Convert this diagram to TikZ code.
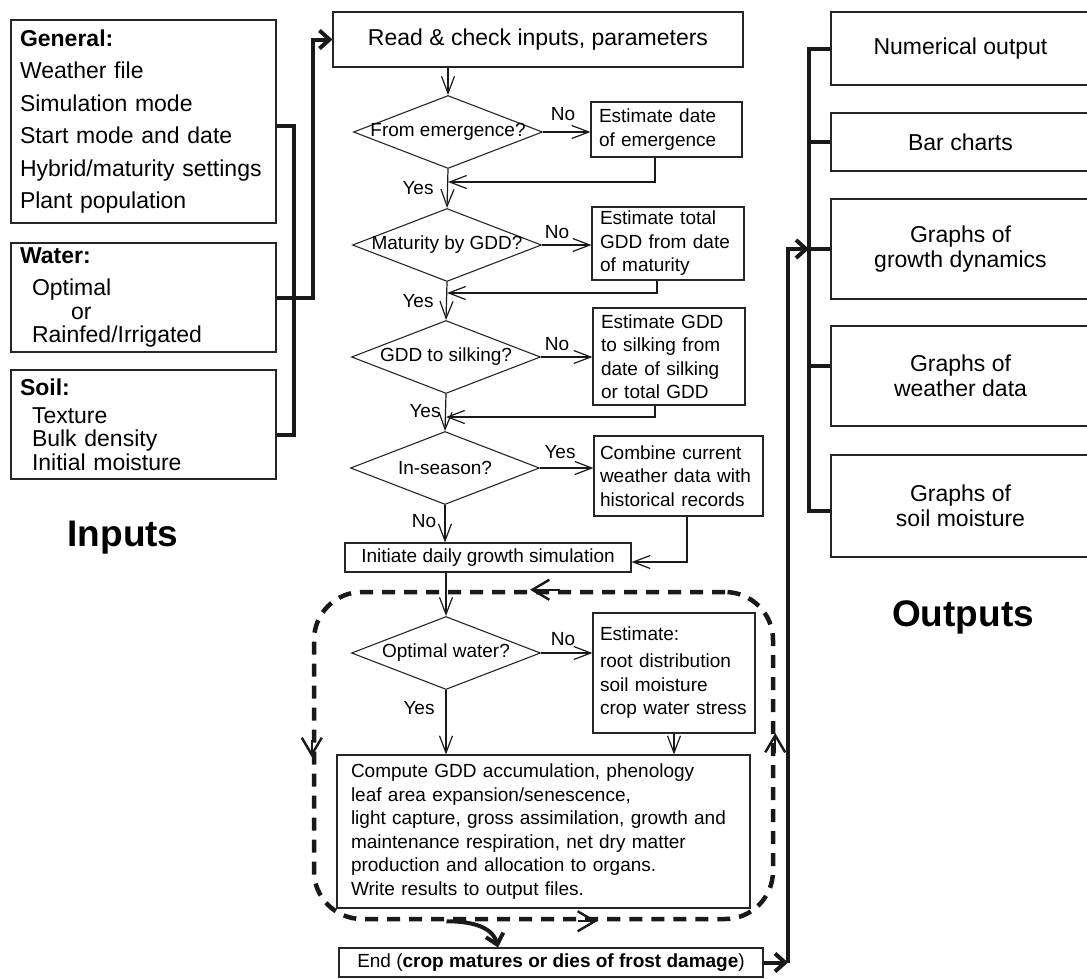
\documentclass[tikz,border=0pt]{standalone}
\usepackage{fontspec}
\setmainfont{Liberation Sans}
\usetikzlibrary{arrows.meta,shapes.geometric,calc}
\begin{document}
\begin{tikzpicture}[x=1pt,y=-1pt,
  line join=miter,
  box/.style={draw=black!85, line width=1.1pt, inner sep=0pt, font=\fontsize{19}{23.5}\selectfont},
  lbox/.style={box, align=left, inner xsep=8pt},
  inbox/.style={box, align=left, inner xsep=9pt, text width=247pt, minimum width=265pt},
  outbox/.style={box, align=center, minimum width=259pt, font=\fontsize{23}{25}\selectfont},
  dia/.style={draw=black!85, diamond, inner sep=0pt, minimum width=189pt, minimum height=73pt, line width=1.1pt, font=\fontsize{19}{23.5}\selectfont},
  lbl/.style={font=\fontsize{19}{23.5}\selectfont, inner sep=0pt},
  arr/.style={draw=black!90, line width=1.2pt, -{Straight Barb[length=17pt,width=13pt]}},
  bus/.style={draw=black!90, line width=4pt},
  thickarr/.style={draw=black!90, line width=4pt, -{Straight Barb[length=10pt,width=18pt]}},
  looparr/.style={draw=black!90, line width=2.4pt, -{Straight Barb[length=17pt,width=20pt]}},
  loopbox/.style={draw=black!90, line width=4.5pt, dashed, dash pattern=on 13pt off 9pt, rounded corners=48pt, inner sep=0pt},
  big/.style={font=\fontsize{37}{40}\selectfont\bfseries, inner sep=0pt}
]
\useasboundingbox (0,0) rectangle (1087,978);

% ---------- Inputs ----------
\node[inbox, minimum height=203pt, font=\fontsize{23}{32.4}\selectfont] (General) at (143.5,121.5)
  {\textbf{General:}\\Weather file\\Simulation mode\\Start mode and date\\Hybrid/maturity settings\\Plant population};
\node[inbox, minimum height=109pt, font=\fontsize{23}{23.5}\selectfont] (Water) at (143.5,297.5)
  {\textbf{Water:}\\[8.5pt]\hspace*{12pt}Optimal\\\hspace*{51pt}or\\\hspace*{12pt}Rainfed/Irrigated};
\node[inbox, minimum height=109pt, font=\fontsize{23}{23.5}\selectfont] (Soil) at (143.5,424.5)
  {\textbf{Soil:}\\[4.5pt]\hspace*{12pt}Texture\\\hspace*{12pt}Bulk density\\\hspace*{12pt}Initial moisture};
\node[big] (Inputs) at (123,538) {Inputs};

% ---------- Main flow ----------
\node[box, minimum width=410pt, minimum height=55pt, font=\fontsize{23}{25}\selectfont] (Read) at (538,39.5) {Read \& check inputs, parameters};

\node[dia] (d1) at (448,132) {\makebox[0pt]{From emergence?}};
\node[lbox, text width=135pt, minimum height=55pt] (e1) at (666.5,129.5) {Estimate date\\of emergence};
\node[dia] (d2) at (447,245) {\makebox[0pt]{Maturity by GDD?}};
\node[lbox, text width=136pt, minimum height=73pt] (e2) at (668,243.5) {Estimate total\\GDD from date\\of maturity};
\node[dia] (d3) at (446,357) {\makebox[0pt]{GDD to silking?}};
\node[lbox, text width=136pt, minimum height=97pt] (e3) at (669,356.5) {Estimate GDD\\to silking from\\date of silking\\or total GDD};
\node[dia] (d4) at (445,468) {\makebox[0pt]{In-season?}};
\node[box, align=left, inner xsep=6pt, text width=157pt, minimum height=80pt] (e4) at (678.5,476) {Combine current\\weather data with\\historical records};
\node[box, minimum width=286pt, minimum height=29pt] (init) at (488,557.5) {Initiate daily growth simulation};

\node[loopbox, minimum width=459pt, minimum height=327pt] (loop) at (543.5,755.5) {};

\node[dia] (d5) at (446,653) {\makebox[0pt]{Optimal water?}};
\node[box, align=left, inner xsep=7pt, text width=148pt, minimum height=120pt] (e5) at (674,673) {Estimate:\\[3.5pt]root distribution\\soil moisture\\crop water stress};
\node[box, align=left, inner xsep=14pt, text width=385pt, minimum height=153pt] (comp) at (543.5,831.5)
  {Compute GDD accumulation, phenology\\leaf area expansion/senescence,\\light capture, gross assimilation, growth and\\maintenance respiration, net dry matter\\production and allocation to organs.\\Write results to output files.};
\node[box, minimum width=424pt, minimum height=29pt] (End) at (551,962.5) {End (\textbf{crop matures or dies of frost damage})};

% labels
\node[lbl] (n1) at (563,114) {No};
\node[lbl] (y1) at (418,188) {Yes};
\node[lbl] (n2) at (557,232) {No};
\node[lbl] (y2) at (418,301) {Yes};
\node[lbl] (n3) at (557,344) {No};
\node[lbl] (y3) at (425,411) {Yes};
\node[lbl] (y4) at (560,452) {Yes};
\node[lbl] (n4) at (424,521) {No};
\node[lbl] (n5) at (563,639) {No};
\node[lbl] (y5) at (419,708) {Yes};

% ---------- Outputs ----------
\node[outbox, minimum height=73pt] (o1) at (960.5,48.5) {Numerical output};
\node[outbox, minimum height=58pt] (o2) at (960.5,142) {Bar charts};
\node[outbox, minimum height=100pt] (o3) at (960.5,249) {Graphs of\\growth dynamics};
\node[outbox, minimum height=100pt] (o4) at (960.5,376) {Graphs of\\weather data};
\node[outbox, minimum height=102pt] (o5) at (960.5,506) {Graphs of\\soil moisture};
\node[big] (Outputs) at (963,617) {Outputs};

% ---------- coordinates ----------
\coordinate (ibx) at (294,0);
\coordinate (soilc) at ([yshift=-10.5pt]Soil.east);
\coordinate (j1) at (448,182);
\coordinate (j2) at (447,293);
\coordinate (j3) at (446,417);
\coordinate (busx) at (809,0);
\coordinate (c1) at (788,962.5);

% ---------- input connectors ----------
\draw[bus] ([yshift=-4.5pt]General.east) -| (ibx |- soilc) -- (soilc);
\draw[thickarr] (Water.east) -- ++(36,0) |- (Read.west);

% ---------- main flow connectors ----------
\draw[arr] (Read.south -| d1.north) -- (d1.north);
\draw[arr] (d1.east) -- (d1.east -| e1.west);
\draw[arr] ([xshift=-11.5pt]e1.south) |- (j1);
\draw[arr] (d1.south) -- (d2.north);
\draw[arr] (d2.east) -- (d2.east -| e2.west);
\draw[arr] ([xshift=-11pt]e2.south) |- (j2);
\draw[arr] (d2.south) -- (d3.north);
\draw[arr] (d3.east) -- (d3.east -| e3.west);
\draw[arr] ([xshift=-14pt]e3.south) |- (j3);
\draw[arr] (d3.south) -- (d4.north);
\draw[arr] (d4.east) -- (d4.east -| e4.west);
\draw[arr] (d4.south) -- (d4.south |- init.north);
\draw[arr] ([xshift=8.5pt]e4.south) |- ([yshift=-4.5pt]init.east);
\draw[arr] (init.south -| d5.north) -- (d5.north);
\draw[arr] (d5.east) -- (d5.east -| e5.west);
\draw[arr] (d5.south) -- (d5.south |- comp.north);
\draw[arr] (e5.south) -- (e5.south |- comp.north);

% loop direction marks
\draw[looparr] ([xshift=16pt]loop.north) -- ([xshift=-13.5pt]loop.north);
\draw[looparr] ([yshift=16pt]loop.west) -- ([yshift=-1.5pt]loop.west);
\draw[looparr] ([xshift=34pt]loop.south) -- ([xshift=53.5pt]loop.south);
\draw[looparr] ([yshift=3pt]loop.east) -- ([yshift=22.5pt]loop.east);

% exit from loop to End
\draw[thickarr] ([xshift=-97pt]loop.south) to[out=0,in=105] ([xshift=-53pt]End.north);

% End to outputs
\draw[thickarr] (End.east) -- (c1);
\draw[thickarr] (c1) |- (o3.west -| busx);

% output bus
\draw[bus] (o1.west) -| ($(busx |- o5.west)+(0,5)$) -- ([yshift=-5pt]o5.west);
\draw[bus] (o2.west) -- (o2.west -| busx);
\draw[bus] (o3.west) -- (o3.west -| busx);
\draw[bus] ([yshift=10pt]o4.west) -- ([yshift=10pt]o4.west -| busx);
\end{tikzpicture}
\end{document}
